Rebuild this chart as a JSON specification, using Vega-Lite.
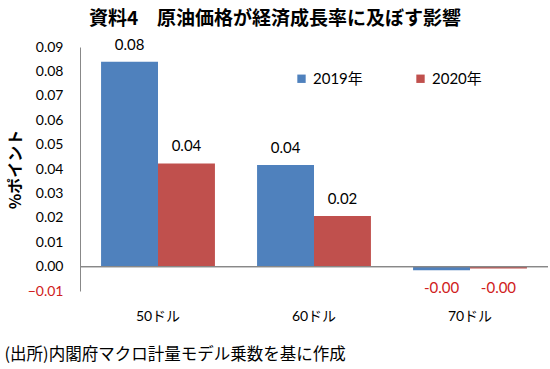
{
  "$schema": "https://vega.github.io/schema/vega-lite/v6.json",
  "autosize": {"type": "none"},
  "width": 468,
  "height": 244,
  "padding": {"left": 80, "top": 47, "right": 2, "bottom": 78},
  "background": "white",
  "config": {
    "font": "Lato, Noto Sans CJK JP",
    "view": {"stroke": null}
  },
  "title": {
    "text": "資料4　原油価格が経済成長率に及ぼす影響",
    "font": "Noto Sans CJK JP",
    "fontSize": 19,
    "fontWeight": "bold",
    "color": "black",
    "anchor": "middle",
    "dx": -39,
    "baseline": "middle",
    "offset": 0
  },
  "data": {
    "values": [
      {"category": "50ドル", "year": "2019年", "value": 0.0840, "label": "0.08"},
      {"category": "50ドル", "year": "2020年", "value": 0.0423, "label": "0.04"},
      {"category": "60ドル", "year": "2019年", "value": 0.0416, "label": "0.04"},
      {"category": "60ドル", "year": "2020年", "value": 0.0207, "label": "0.02"},
      {"category": "70ドル", "year": "2019年", "value": -0.0015, "label": "-0.00"},
      {"category": "70ドル", "year": "2020年", "value": -0.0008, "label": "-0.00"}
    ]
  },
  "encoding": {
    "x": {
      "field": "category",
      "type": "nominal",
      "sort": null,
      "scale": {"paddingInner": 0.27, "paddingOuter": 0.135},
      "axis": {
        "title": "(出所)内閣府マクロ計量モデル乗数を基に作成",
        "titleFont": "Noto Sans CJK JP",
        "titleFontSize": 16.5,
        "titleFontWeight": "normal",
        "titleColor": "black",
        "titleAnchor": "start",
        "titleAlign": "left",
        "titleBaseline": "middle",
        "titleX": -76,
        "titleY": 63,
        "labelAngle": 0,
        "labelFontSize": 14,
        "labelColor": "black",
        "labelPadding": 25,
        "labelBaseline": "middle",
        "domain": false,
        "ticks": false
      }
    },
    "xOffset": {"field": "year", "type": "nominal", "scale": {"paddingInner": 0, "paddingOuter": 0}}
  },
  "layer": [
    {
      "mark": {"type": "bar"},
      "encoding": {
        "y": {
          "field": "value",
          "type": "quantitative",
          "scale": {"domain": [-0.01, 0.09], "nice": false, "zero": false},
          "axis": {
            "title": "%ポイント",
            "titleFont": "Noto Sans CJK JP",
            "titleFontSize": 16,
            "titleFontWeight": "bold",
            "titleColor": "black",
            "titleX": -65,
            "titleY": 122,
            "titleAlign": "center",
            "titleBaseline": "middle",
            "values": [-0.01, 0, 0.01, 0.02, 0.03, 0.04, 0.05, 0.06, 0.07, 0.08, 0.09],
            "tickCount": 20,
            "format": ".2f",
            "labelOverlap": false,
            "labelFontSize": 14,
            "labelColor": {"condition": {"test": "datum.value < 0", "value": "#D02020"}, "value": "black"},
            "labelPadding": 17,
            "grid": false,
            "ticks": false,
            "domainColor": "#888888"
          }
        },
        "color": {
          "field": "year",
          "type": "nominal",
          "scale": {"domain": ["2019年", "2020年"], "range": ["#4F81BD", "#C0504D"]},
          "legend": {
            "title": null,
            "orient": "none",
            "legendX": 214,
            "legendY": 24,
            "direction": "horizontal",
            "symbolType": "square",
            "symbolSize": 70,
            "symbolStrokeWidth": 0,
            "labelFontSize": 15,
            "labelColor": "black",
            "columnPadding": 50
          }
        }
      }
    },
    {
      "mark": {"type": "rule", "color": "#888888", "strokeWidth": 1},
      "encoding": {"y": {"datum": 0, "type": "quantitative"}, "x": null, "xOffset": null}
    },
    {
      "transform": [{"filter": "datum.value >= 0"}],
      "mark": {"type": "text", "fontSize": 15, "dy": -17, "baseline": "middle", "color": "black"},
      "encoding": {
        "y": {"field": "value", "type": "quantitative"},
        "text": {"field": "label", "type": "nominal"}
      }
    },
    {
      "transform": [{"filter": "datum.value < 0"}],
      "mark": {"type": "text", "fontSize": 15, "dy": 21, "baseline": "middle", "color": "#D02020"},
      "encoding": {
        "y": {"datum": 0, "type": "quantitative"},
        "text": {"field": "label", "type": "nominal"}
      }
    }
  ]
}
